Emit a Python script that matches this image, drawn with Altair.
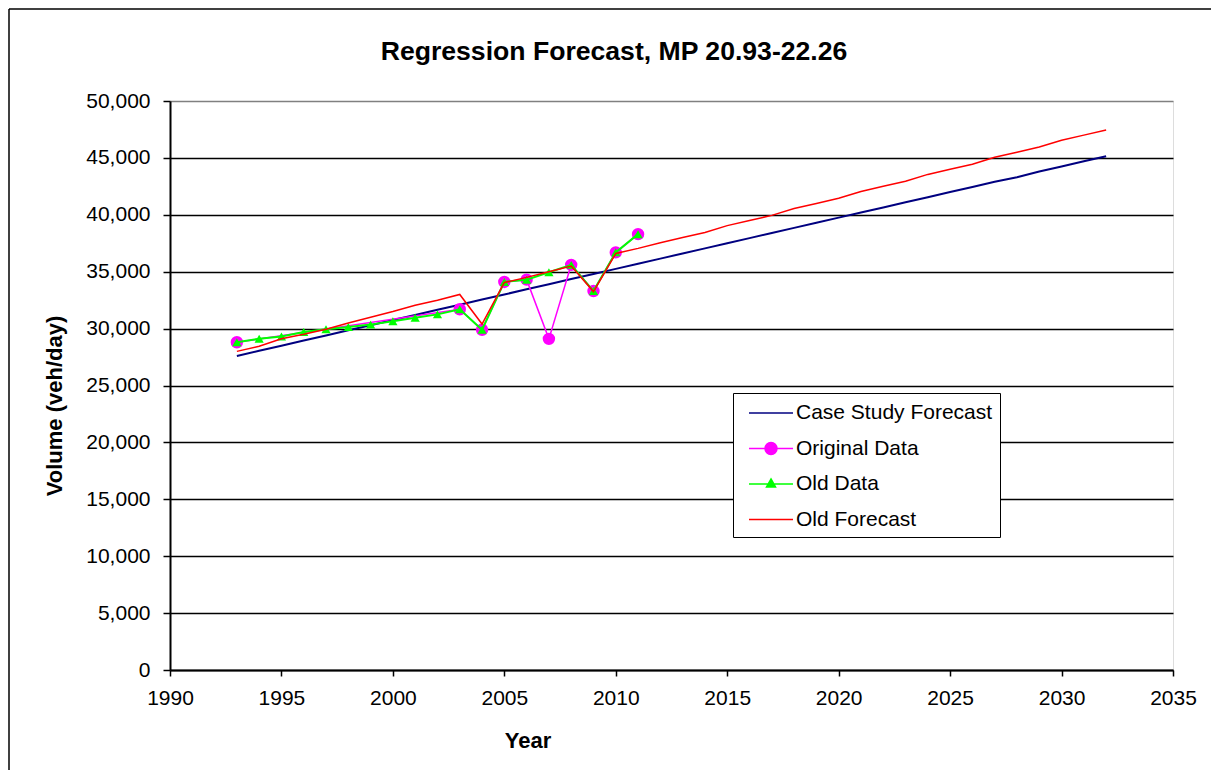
import altair as alt
import pandas as pd

# ---------------- data ----------------
series_names = ["Case Study Forecast", "Original Data", "Old Data", "Old Forecast"]
series_colors = ["#000080", "#FF00FF", "#00FF00", "#FF0000"]

years_forecast = list(range(1993, 2033))
case_study_forecast = [
    27600, 28050, 28500, 28950, 29400, 29850, 30300, 30750, 31200, 31650,
    32100, 32550, 33000, 33450, 33900, 34350, 34800, 35250, 35700, 36150,
    36600, 37050, 37500, 37950, 38400, 38850, 39300, 39750, 40200, 40650,
    41100, 41550, 42000, 42450, 42900, 43300, 43800, 44250, 44700, 45150,
]
old_forecast = [
    28000, 28450, 29100, 29500, 29950, 30500, 31000, 31500, 32050, 32500,
    33000, 30400, 34050, 34500, 35000, 35500, 33250, 36600, 37050, 37550,
    38000, 38450, 39050, 39500, 39950, 40550, 41000, 41450, 42050, 42500,
    42950, 43550, 44000, 44450, 45050, 45500, 45950, 46550, 47000, 47450,
]

years_original = [1993, 2003, 2004, 2005, 2006, 2007, 2008, 2009, 2010, 2011]
original_data = [28800, 31700, 29900, 34100, 34300, 29100, 35600, 33300, 36700, 38300]

years_old = list(range(1993, 2012))
old_data = [
    28800, 29100, 29300, 29700, 29950, 30150, 30350, 30650, 30950, 31250,
    31700, 29900, 34100, 34300, 34950, 35600, 33300, 36700, 38300,
]

x_ticks = [1990, 1995, 2000, 2005, 2010, 2015, 2020, 2025, 2030, 2035]
y_ticks = [0, 5000, 10000, 15000, 20000, 25000, 30000, 35000, 40000, 45000, 50000]

df_cs = pd.DataFrame({"year": years_forecast, "value": case_study_forecast, "series": series_names[0]})
df_orig = pd.DataFrame({"year": years_original, "value": original_data, "series": series_names[1]})
df_old = pd.DataFrame({"year": years_old, "value": old_data, "series": series_names[2]})
df_of = pd.DataFrame({"year": years_forecast, "value": old_forecast, "series": series_names[3]})
df_all = pd.concat([df_cs, df_orig, df_old, df_of], ignore_index=True)

FONT = "Liberation Sans"

x_enc = alt.X(
    "year:Q",
    scale=alt.Scale(domain=[1990, 2035], nice=False, zero=False),
    axis=alt.Axis(
        values=x_ticks, format="d", grid=False,
        labelFontSize=21, labelFont=FONT, labelColor="black",
        labelPadding=11, labelFlush=False, labelOverlap=False,
        tickSize=6, tickColor="black", tickWidth=1.5,
        domainColor="black", domainWidth=2,
        title="Year", titleFont=FONT, titleFontSize=22, titleFontWeight="bold",
        titleColor="black", titleX=357.5, titleY=77.7,
        titleAlign="center", titleBaseline="alphabetic",
    ),
)
y_enc = alt.Y(
    "value:Q",
    scale=alt.Scale(domain=[0, 50000], nice=False),
    axis=alt.Axis(
        values=y_ticks, format=",d",
        labelFontSize=21, labelFont=FONT, labelColor="black", labelPadding=13,
        tickSize=7, tickColor="black", tickWidth=1.5,
        domainColor="black", domainWidth=2,
        grid=True, gridWidth=1.5,
        gridColor={"condition": {"test": "datum.value >= 50000", "value": "#808080"}, "value": "black"},
        title="Volume (veh/day)", titleFont=FONT, titleFontSize=22, titleFontWeight="bold",
        titleColor="black", titleAngle=270, titleX=-109, titleY=304.5,
        titleAlign="center", titleBaseline="alphabetic",
    ),
)

navy_line = alt.Chart(df_cs).mark_line(color=series_colors[0], strokeWidth=2).encode(x=x_enc, y=y_enc)
mag_line = alt.Chart(df_orig).mark_line(color=series_colors[1], strokeWidth=1.5).encode(x=x_enc, y=y_enc)
mag_pts = alt.Chart(df_orig).mark_point(
    filled=True, shape="circle", size=154, color=series_colors[1], opacity=1
).encode(x=x_enc, y=y_enc)
green_line = alt.Chart(df_old).mark_line(color=series_colors[2], strokeWidth=2).encode(x=x_enc, y=y_enc)
green_pts = alt.Chart(df_old).mark_point(
    filled=True, shape="triangle-up", size=85, color=series_colors[2], opacity=1
).encode(x=x_enc, y=y_enc)
red_line = alt.Chart(df_of).mark_line(color=series_colors[3], strokeWidth=1.5).encode(x=x_enc, y=y_enc)

# legend (custom symbols: line + marker)
sym_line = "M-1.833,0H1.833"
sym_circle = "M-1.833,0H1.833M0.5,0A0.5,0.5,0,1,1,-0.5,0A0.5,0.5,0,1,1,0.5,0Z"
sym_tri = "M-1.833,0H1.833M0,-0.42L0.375,0.25L-0.375,0.25Z"
legend_shapes = [sym_line, sym_circle, sym_tri, sym_line]


def make_legend():
    return alt.Legend(
        title=None, orient="none", legendX=563, legendY=292, direction="vertical",
        fillColor="white", strokeColor="black", padding=7,
        symbolSize=576, symbolStrokeWidth=1.5, symbolOffset=18,
        labelFont=FONT, labelFontSize=21, labelColor="black", labelOffset=12,
        labelLimit=400, rowPadding=12.5,
        labelExpr="datum.label + '\u2002'",
    )


legend_layer = alt.Chart(df_all).mark_point(filled=True, size=576, strokeWidth=1.5, opacity=1).encode(
    x=x_enc, y=y_enc,
    fill=alt.Fill("series:N", scale=alt.Scale(domain=series_names, range=series_colors), legend=make_legend(), sort=series_names),
    stroke=alt.Stroke("series:N", scale=alt.Scale(domain=series_names, range=series_colors), legend=make_legend(), sort=series_names),
    shape=alt.Shape("series:N", scale=alt.Scale(domain=series_names, range=legend_shapes), legend=make_legend(), sort=series_names),
).transform_filter("datum.year < 0")

# outer chart border (top and left edges; the others lie outside the picture)
frame_df = pd.DataFrame({"k": [0]})
border_top = alt.Chart(frame_df).mark_rule(color="black", strokeWidth=1.5).encode(
    x=alt.value(-161), x2=alt.value(1100), y=alt.value(-92)
)
border_left = alt.Chart(frame_df).mark_rule(color="black", strokeWidth=1.5).encode(
    x=alt.value(-161), y=alt.value(-92), y2=alt.value(760)
)

chart = alt.layer(
    border_top, border_left, navy_line, mag_line, mag_pts, green_line, green_pts, red_line, legend_layer
).properties(
    width=1003, height=569,
    title=alt.TitleParams(
        "Regression Forecast, MP 20.93-22.26", font=FONT, fontSize=26.6, fontWeight="bold",
        color="black", anchor="middle", frame="group", baseline="alphabetic",
        offset=40, dx=-57.5, dy=118.75,
    ),
    autosize=alt.AutoSizeParams(type="none"),
    padding={"left": 162, "top": 93, "right": 38, "bottom": 100},
).configure_view(
    stroke="#808080", strokeWidth=2
).configure(background="white")

chart.save("out.html", embed_options={"renderer": "svg", "actions": False})
